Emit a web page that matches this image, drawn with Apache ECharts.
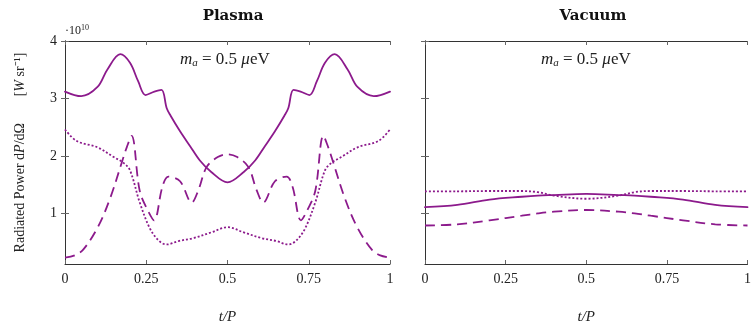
<!DOCTYPE html>
<html><head><meta charset="utf-8">
<script src="https://cdn.jsdelivr.net/npm/echarts@6/dist/echarts.min.js"></script>
<style>html,body{margin:0;padding:0;background:#fff}#c{width:754px;height:330px}</style>
</head><body><div id="c"></div>
<script>
// values in units of 1e10 W sr^-1
const xTicks = [0, 0.25, 0.5, 0.75, 1];
const yTicks = [1, 2, 3, 4];

const plasmaSolidT = [0,0.05,0.1,0.13,0.17,0.2,0.225,0.248,0.275,0.297,0.313,0.325,0.354,0.385,0.415,0.45,0.5,0.55,0.585,0.615,0.646,0.675,0.687,0.703,0.725,0.752,0.775,0.8,0.83,0.87,0.9,0.95,1];
const plasmaSolidV = [3.12,3.04,3.2,3.5,3.77,3.62,3.3,3.06,3.12,3.15,2.83,2.7,2.43,2.17,1.92,1.72,1.54,1.72,1.92,2.17,2.43,2.7,2.83,3.15,3.12,3.06,3.3,3.62,3.77,3.5,3.2,3.04,3.12];

const plasmaDashT = [0,0.03,0.056,0.1,0.138,0.18,0.19,0.205,0.23,0.255,0.274,0.3,0.318,0.354,0.39,0.41,0.436,0.47,0.5,0.53,0.564,0.59,0.61,0.646,0.682,0.7,0.726,0.745,0.77,0.795,0.81,0.82,0.862,0.9,0.944,0.97,1];
const plasmaDashV = [0.23,0.27,0.37,0.75,1.25,1.98,2.15,2.35,1.39,1.05,0.88,1.47,1.64,1.56,1.19,1.4,1.81,1.98,2.03,1.98,1.81,1.4,1.19,1.56,1.64,1.47,0.88,1.05,1.39,2.35,2.15,1.98,1.25,0.75,0.37,0.27,0.23];

const plasmaDotT = [0,0.036,0.1,0.15,0.18,0.2,0.23,0.262,0.29,0.313,0.35,0.395,0.45,0.5,0.55,0.605,0.65,0.687,0.71,0.738,0.77,0.8,0.82,0.85,0.9,0.964,1];
const plasmaDotV = [2.46,2.26,2.15,1.98,1.88,1.75,1.19,0.73,0.52,0.46,0.52,0.57,0.67,0.76,0.67,0.57,0.52,0.46,0.52,0.73,1.19,1.75,1.88,1.98,2.15,2.26,2.46];

const vacT = [0,0.1,0.2,0.3,0.35,0.4,0.5,0.6,0.65,0.7,0.8,0.9,1];
const vacSolidV = [1.11,1.15,1.24,1.29,1.31,1.32,1.34,1.32,1.31,1.29,1.24,1.15,1.11];
const vacDotV = [1.385,1.385,1.39,1.39,1.37,1.31,1.255,1.31,1.37,1.39,1.39,1.385,1.385];
const vacDashV = [0.79,0.81,0.88,0.96,1.0,1.03,1.06,1.03,1.0,0.96,0.88,0.81,0.79];

const yMin = 0.12, yMax = 4;
const col = '#8c1a8c';
const serif = 'Liberation Serif';
const pair = (t, v) => t.map((x, i) => [x, v[i]]);

const axisLineStyle = {show: true, lineStyle: {color: '#333', width: 1}};
const tickStyle = {show: true, inside: true, length: 4, lineStyle: {color: '#666', width: 1}};

function xAx(grid, pos, labels, name) {
  return {type: 'value', gridIndex: grid, position: pos, min: 0, max: 1, interval: 0.25,
    axisLine: axisLineStyle, axisTick: tickStyle, splitLine: {show: false},
    axisLabel: {show: labels, color: '#222', fontFamily: serif, fontSize: 14, margin: 8,
      formatter: v => String(v)},
    name: name || '', nameLocation: 'middle', nameGap: 46,
    nameTextStyle: {fontFamily: serif, fontStyle: 'italic', fontSize: 15, color: '#222'}};
}
function yAx(grid, pos, labels, withName) {
  const a = {type: 'value', gridIndex: grid, position: pos, min: yMin, max: yMax,
    axisLine: axisLineStyle, splitLine: {show: false},
    axisTick: Object.assign({}, tickStyle, {customValues: yTicks}),
    axisLabel: {show: labels, customValues: yTicks, color: '#222', fontFamily: serif, fontSize: 14, margin: 8}};
  if (withName) {
    a.name = '{n|Radiated Power d}{i|P}{n|/dΩ}        {n|[}{i|W}{n| sr⁻¹]}';
    a.nameLocation = 'middle';
    a.nameGap = 38;
    a.nameRotate = 90;
    a.nameTextStyle = {rich: {
      n: {fontFamily: serif, fontSize: 14, color: '#222'},
      i: {fontFamily: serif, fontSize: 14, fontStyle: 'italic', color: '#222'}}};
  }
  return a;
}
function line(xi, yi, data, type, width) {
  return {type: 'line', xAxisIndex: xi, yAxisIndex: yi, data: data, smooth: 0.35,
    showSymbol: false, symbol: 'none', animation: false,
    lineStyle: {color: col, width: width, type: type, cap: type === 'solid' ? 'round' : 'butt'}};
}

const chart = echarts.init(document.getElementById('c'), null, {renderer: 'canvas'});
chart.setOption({
  animation: false,
  backgroundColor: '#fff',
  title: [
    {text: 'Plasma', left: 228, top: 4, textAlign: 'center', textStyle: {fontFamily: 'DejaVu Serif', fontWeight: 'bold', fontSize: 15, color: '#111'}},
    {text: 'Vacuum', left: 588, top: 4, textAlign: 'center', textStyle: {fontFamily: 'DejaVu Serif', fontWeight: 'bold', fontSize: 15, color: '#111'}}
  ],
  grid: [
    {left: 65, top: 41, width: 325, height: 229},
    {left: 425, top: 41, width: 326, height: 229}
  ],
  xAxis: [xAx(0, 'bottom', true, 't/P'), xAx(0, 'top', false), xAx(1, 'bottom', true, 't/P'), xAx(1, 'top', false)],
  yAxis: [yAx(0, 'left', true, true), yAx(0, 'right', false), yAx(1, 'left', false), yAx(1, 'right', false)],
  series: [
    line(0, 0, pair(plasmaSolidT, plasmaSolidV), 'solid', 1.8),
    line(0, 0, pair(plasmaDashT, plasmaDashV), [10, 6], 1.8),
    line(0, 0, pair(plasmaDotT, plasmaDotV), [2, 2], 1.8),
    line(2, 2, pair(vacT, vacSolidV), 'solid', 1.8),
    line(2, 2, pair(vacT, vacDashV), [10, 6], 1.8),
    line(2, 2, pair(vacT, vacDotV), [2, 2], 1.8)
  ],
  graphic: [
    {type: 'text', left: 65, top: 24, style: {text: '·10{s|10}', fontFamily: serif, fontSize: 12, fill: '#222',
      rich: {s: {fontFamily: serif, fontSize: 8, fill: '#222', verticalAlign: 'top', padding: [0,0,6,0]}}}},
    {type: 'text', left: 180, top: 51, style: {text: '{i|m}{s|a}{n| = 0.5 }{i|μ}{n|eV}', rich: {
      i: {fontFamily: serif, fontStyle: 'italic', fontSize: 17, fill: '#222'},
      n: {fontFamily: serif, fontSize: 17, fill: '#222'},
      s: {fontFamily: serif, fontStyle: 'italic', fontSize: 11, fill: '#222', padding: [7,0,0,0]}}}},
    {type: 'text', left: 541, top: 51, style: {text: '{i|m}{s|a}{n| = 0.5 }{i|μ}{n|eV}', rich: {
      i: {fontFamily: serif, fontStyle: 'italic', fontSize: 17, fill: '#222'},
      n: {fontFamily: serif, fontSize: 17, fill: '#222'},
      s: {fontFamily: serif, fontStyle: 'italic', fontSize: 11, fill: '#222', padding: [7,0,0,0]}}}}
  ]
});
</script></body></html>
